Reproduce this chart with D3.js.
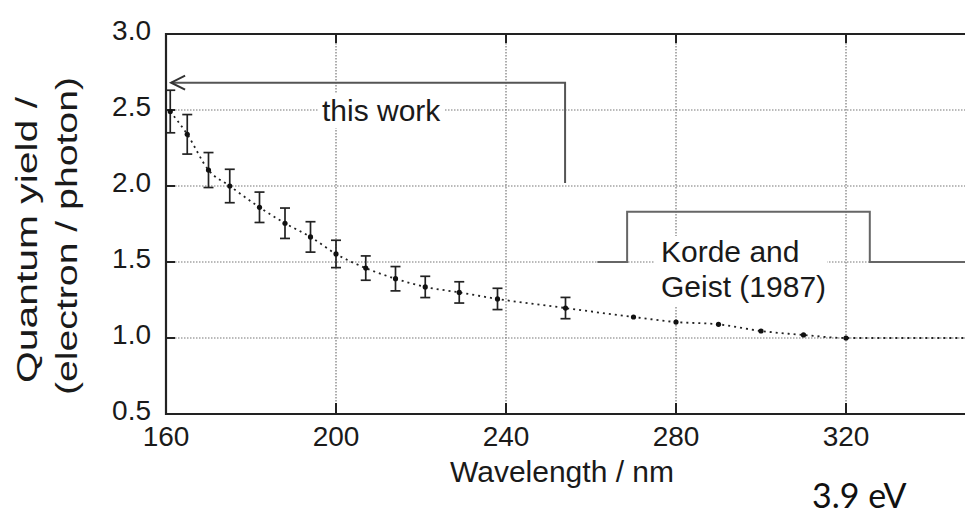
<!DOCTYPE html>
<html>
<head>
<meta charset="utf-8">
<script src="https://cdn.jsdelivr.net/npm/d3@7"></script>
<style>
    body { margin: 0; background: #fff; }
    svg { display: block; }
    .tick-label { font-family: "Liberation Sans", Arial, sans-serif; font-size: 28px; fill: #1a1a1a; }
    .title { font-family: "Liberation Sans", Arial, sans-serif; font-size: 30px; fill: #1a1a1a; }
    .grid { stroke: #777; stroke-width: 1.2; stroke-dasharray: 1.5,1.5; }
</style>
</head>
<body>
<script>
// "this work" measurements with error bars
var workWavelength = [161, 165, 170, 175, 182, 188, 194, 200, 207, 214, 221, 229, 238, 254];
var workYield = [2.49, 2.34, 2.105, 2.0, 1.86, 1.755, 1.665, 1.553, 1.46, 1.39, 1.336, 1.30, 1.257, 1.197];
var workError = [0.14, 0.13, 0.115, 0.11, 0.10, 0.10, 0.10, 0.09, 0.08, 0.08, 0.07, 0.07, 0.07, 0.07];

// Korde and Geist (1987) points, no error bars
var kordeWavelength = [270, 280, 290, 300, 310, 320];
var kordeYield = [1.138, 1.105, 1.09, 1.046, 1.02, 1.0];

// dotted curve keeps going flat past the last point
var tailWavelength = [350];
var tailYield = [1.0];

var xTicks = [160, 200, 240, 280, 320];
var yTicks = [0.5, 1.0, 1.5, 2.0, 2.5, 3.0];

// annotation brackets, in data units
var thisWorkLine = [[253.9, 2.02], [253.9, 2.68], [161.2, 2.68]];
var kordeBracket = [[261.5, 1.5], [268.5, 1.5], [268.5, 1.83], [325.6, 1.83], [325.6, 1.5], [350, 1.5]];

var width = 965, height = 519;
var margin = { top: 34, left: 166, bottom: 105 };

var svg = d3.select("body").append("svg")
    .attr("width", width)
    .attr("height", height);

var x = d3.scaleLinear().domain([160, 350]).range([margin.left, margin.left + 190 * 4.25]);
var y = d3.scaleLinear().domain([0.5, 3.0]).range([height - margin.bottom, margin.top]);

// grid lines
svg.append("g").selectAll("line")
    .data(yTicks.slice(1, -1))
    .enter().append("line")
    .attr("class", "grid")
    .attr("x1", x(160)).attr("x2", x(350))
    .attr("y1", function (d) { return y(d); })
    .attr("y2", function (d) { return y(d); });

svg.append("g").selectAll("line")
    .data(xTicks.slice(1))
    .enter().append("line")
    .attr("class", "grid")
    .attr("y1", y(3.0)).attr("y2", y(0.5))
    .attr("x1", function (d) { return x(d); })
    .attr("x2", function (d) { return x(d); });

// axes with inward ticks
var frame = svg.append("g").attr("stroke", "#222").attr("fill", "none");
frame.append("path")
    .attr("stroke-width", 2.2)
    .attr("d", "M" + x(350) + "," + y(3.0) + "H" + x(160) + "V" + y(0.5) + "H" + x(350));

frame.selectAll(".ytick")
    .data(yTicks)
    .enter().append("line")
    .attr("stroke-width", 2)
    .attr("x1", x(160)).attr("x2", x(160) + 9)
    .attr("y1", function (d) { return y(d); })
    .attr("y2", function (d) { return y(d); });

frame.selectAll(".xtop")
    .data(xTicks.slice(1))
    .enter().append("line")
    .attr("stroke-width", 2)
    .attr("y1", y(3.0)).attr("y2", y(3.0) + 9)
    .attr("x1", function (d) { return x(d); })
    .attr("x2", function (d) { return x(d); });

frame.selectAll(".xbot")
    .data(xTicks.slice(1))
    .enter().append("line")
    .attr("stroke-width", 2)
    .attr("y1", y(0.5)).attr("y2", y(0.5) - 11)
    .attr("x1", function (d) { return x(d); })
    .attr("x2", function (d) { return x(d); });

// tick labels
svg.selectAll(".ylab")
    .data(yTicks)
    .enter().append("text")
    .attr("class", "tick-label")
    .attr("x", 151)
    .attr("y", function (d) { return y(d) - 4; })
    .attr("dy", "0.35em")
    .attr("text-anchor", "end")
    .text(function (d) { return d3.format(".1f")(d); });

svg.selectAll(".xlab")
    .data(xTicks)
    .enter().append("text")
    .attr("class", "tick-label")
    .attr("x", function (d) { return x(d); })
    .attr("y", y(0.5) + 32)
    .attr("text-anchor", "middle")
    .text(function (d) { return d; });

// axis titles
svg.append("text")
    .attr("class", "title")
    .attr("x", 562).attr("y", 482)
    .attr("text-anchor", "middle")
    .text("Wavelength / nm");

svg.append("text")
    .attr("class", "title")
    .attr("transform", "translate(37,240) rotate(-90)")
    .attr("text-anchor", "middle")
    .attr("textLength", 286).attr("lengthAdjust", "spacingAndGlyphs")
    .text("Quantum yield /");

svg.append("text")
    .attr("class", "title")
    .attr("transform", "translate(77,236) rotate(-90)")
    .attr("text-anchor", "middle")
    .attr("textLength", 318).attr("lengthAdjust", "spacingAndGlyphs")
    .text("(electron / photon)");

svg.append("text")
    .attr("x", 812).attr("y", 508)
    .style("font-family", "Lato, 'Open Sans', sans-serif")
    .style("font-size", "34px")
    .style("fill", "#111")
    .text("3.9 eV");

// dotted curve through all points
var curvePts = workWavelength.map(function (d, i) { return [d, workYield[i]]; })
    .concat(kordeWavelength.map(function (d, i) { return [d, kordeYield[i]]; }))
    .concat(tailWavelength.map(function (d, i) { return [d, tailYield[i]]; }));

var line = d3.line()
    .x(function (d) { return x(d[0]); })
    .y(function (d) { return y(d[1]); })
    .curve(d3.curveMonotoneX);

svg.append("path")
    .datum(curvePts)
    .attr("fill", "none")
    .attr("stroke", "#222")
    .attr("stroke-width", 1.8)
    .attr("stroke-dasharray", "2,4")
    .attr("d", line);

// error bars
var bars = svg.append("g").attr("stroke", "#222").attr("stroke-width", 1.7);
workWavelength.forEach(function (w, i) {
    var cx = x(w), lo = y(workYield[i] - workError[i]), hi = y(workYield[i] + workError[i]);
    bars.append("line").attr("x1", cx).attr("x2", cx).attr("y1", lo).attr("y2", hi);
    bars.append("line").attr("x1", cx - 5).attr("x2", cx + 5).attr("y1", lo).attr("y2", lo);
    bars.append("line").attr("x1", cx - 5).attr("x2", cx + 5).attr("y1", hi).attr("y2", hi);
});

svg.append("g").selectAll("circle")
    .data(curvePts.slice(0, workWavelength.length + kordeWavelength.length))
    .enter().append("circle")
    .attr("cx", function (d) { return x(d[0]); })
    .attr("cy", function (d) { return y(d[1]); })
    .attr("r", 2.6)
    .attr("fill", "#111");

// annotation: this work
var annLine = d3.line()
    .x(function (d) { return x(d[0]); })
    .y(function (d) { return y(d[1]); });

svg.append("rect")
    .attr("x", 318).attr("y", 94).attr("width", 126).attr("height", 34)
    .attr("fill", "#fff");
svg.append("text")
    .attr("class", "title")
    .attr("x", 322).attr("y", 121)
    .text("this work");

svg.append("path")
    .datum(thisWorkLine)
    .attr("fill", "none")
    .attr("stroke", "#555")
    .attr("stroke-width", 2)
    .attr("d", annLine);

var tip = thisWorkLine[2];
svg.append("path")
    .attr("fill", "none")
    .attr("stroke", "#333")
    .attr("stroke-width", 2)
    .attr("d", "M" + (x(tip[0]) + 14) + "," + (y(tip[1]) - 7) + "L" + x(tip[0]) + "," + y(tip[1])
        + "L" + (x(tip[0]) + 14) + "," + (y(tip[1]) + 7));

// annotation: Korde and Geist
svg.append("rect")
    .attr("x", 655).attr("y", 236).attr("width", 172).attr("height", 70)
    .attr("fill", "#fff");
svg.append("path")
    .datum(kordeBracket)
    .attr("fill", "none")
    .attr("stroke", "#666")
    .attr("stroke-width", 2)
    .attr("d", annLine);

var kordeText = svg.append("text")
    .attr("class", "title")
    .attr("x", 661).attr("y", 262);
kordeText.append("tspan").attr("x", 661).text("Korde and");
kordeText.append("tspan").attr("x", 661).attr("dy", 35).text("Geist (1987)");
</script>
</body>
</html>
